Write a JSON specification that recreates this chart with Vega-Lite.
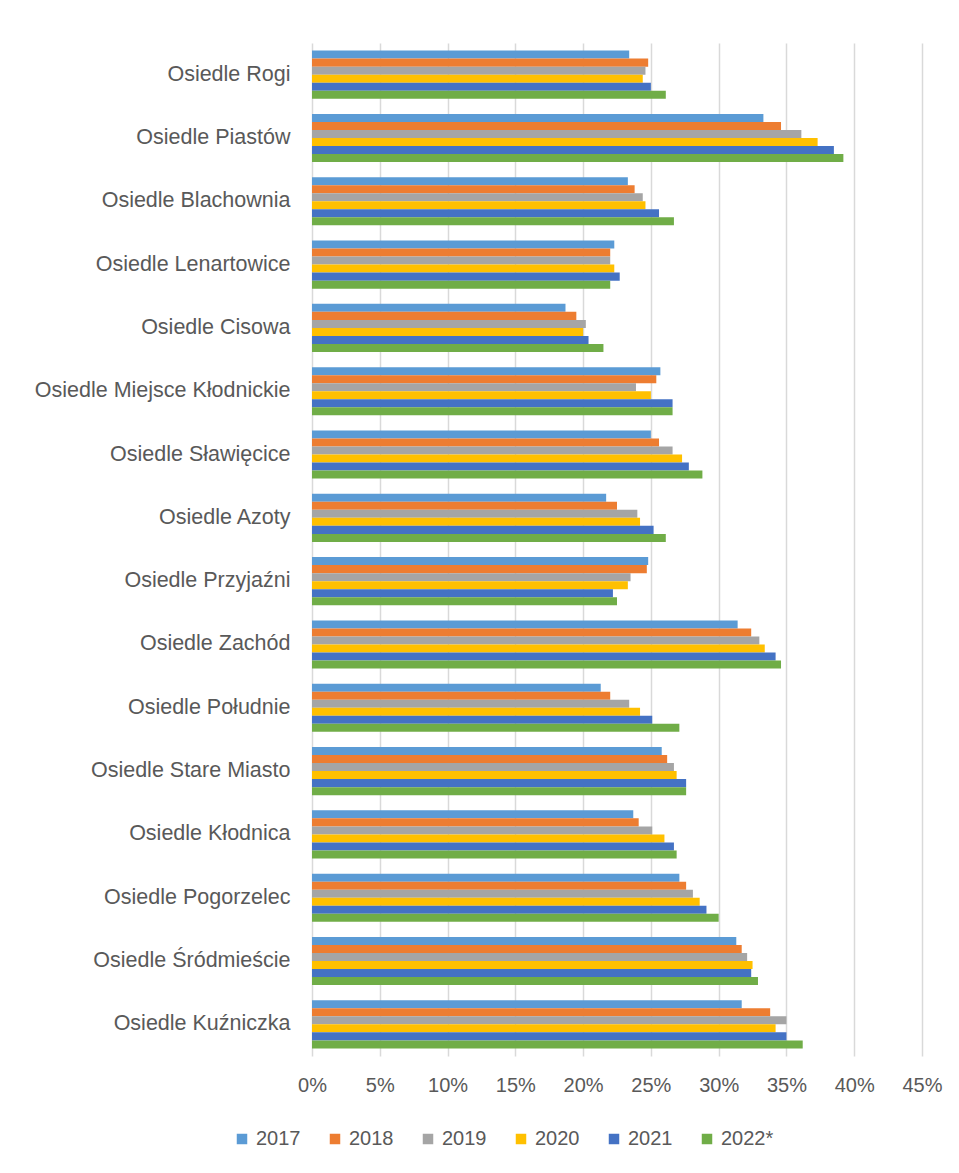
{
  "$schema": "https://vega.github.io/schema/vega-lite/v6.json",
  "width": 610,
  "height": 1013,
  "autosize": {"type": "none"},
  "padding": {"left": 312, "top": 43, "right": 37, "bottom": 117},
  "background": "white",
  "config": {
    "view": {"stroke": null},
    "font": "Liberation Sans"
  },
  "data": {
    "values": [
      {"osiedle": "Osiedle Rogi", "rok": "2017", "v": 0.234},
      {"osiedle": "Osiedle Rogi", "rok": "2018", "v": 0.248},
      {"osiedle": "Osiedle Rogi", "rok": "2019", "v": 0.246},
      {"osiedle": "Osiedle Rogi", "rok": "2020", "v": 0.244},
      {"osiedle": "Osiedle Rogi", "rok": "2021", "v": 0.250},
      {"osiedle": "Osiedle Rogi", "rok": "2022*", "v": 0.261},
      {"osiedle": "Osiedle Piastów", "rok": "2017", "v": 0.333},
      {"osiedle": "Osiedle Piastów", "rok": "2018", "v": 0.346},
      {"osiedle": "Osiedle Piastów", "rok": "2019", "v": 0.361},
      {"osiedle": "Osiedle Piastów", "rok": "2020", "v": 0.373},
      {"osiedle": "Osiedle Piastów", "rok": "2021", "v": 0.385},
      {"osiedle": "Osiedle Piastów", "rok": "2022*", "v": 0.392},
      {"osiedle": "Osiedle Blachownia", "rok": "2017", "v": 0.233},
      {"osiedle": "Osiedle Blachownia", "rok": "2018", "v": 0.238},
      {"osiedle": "Osiedle Blachownia", "rok": "2019", "v": 0.244},
      {"osiedle": "Osiedle Blachownia", "rok": "2020", "v": 0.246},
      {"osiedle": "Osiedle Blachownia", "rok": "2021", "v": 0.256},
      {"osiedle": "Osiedle Blachownia", "rok": "2022*", "v": 0.267},
      {"osiedle": "Osiedle Lenartowice", "rok": "2017", "v": 0.223},
      {"osiedle": "Osiedle Lenartowice", "rok": "2018", "v": 0.220},
      {"osiedle": "Osiedle Lenartowice", "rok": "2019", "v": 0.220},
      {"osiedle": "Osiedle Lenartowice", "rok": "2020", "v": 0.223},
      {"osiedle": "Osiedle Lenartowice", "rok": "2021", "v": 0.227},
      {"osiedle": "Osiedle Lenartowice", "rok": "2022*", "v": 0.220},
      {"osiedle": "Osiedle Cisowa", "rok": "2017", "v": 0.187},
      {"osiedle": "Osiedle Cisowa", "rok": "2018", "v": 0.195},
      {"osiedle": "Osiedle Cisowa", "rok": "2019", "v": 0.202},
      {"osiedle": "Osiedle Cisowa", "rok": "2020", "v": 0.200},
      {"osiedle": "Osiedle Cisowa", "rok": "2021", "v": 0.204},
      {"osiedle": "Osiedle Cisowa", "rok": "2022*", "v": 0.215},
      {"osiedle": "Osiedle Miejsce Kłodnickie", "rok": "2017", "v": 0.257},
      {"osiedle": "Osiedle Miejsce Kłodnickie", "rok": "2018", "v": 0.254},
      {"osiedle": "Osiedle Miejsce Kłodnickie", "rok": "2019", "v": 0.239},
      {"osiedle": "Osiedle Miejsce Kłodnickie", "rok": "2020", "v": 0.250},
      {"osiedle": "Osiedle Miejsce Kłodnickie", "rok": "2021", "v": 0.266},
      {"osiedle": "Osiedle Miejsce Kłodnickie", "rok": "2022*", "v": 0.266},
      {"osiedle": "Osiedle Sławięcice", "rok": "2017", "v": 0.250},
      {"osiedle": "Osiedle Sławięcice", "rok": "2018", "v": 0.256},
      {"osiedle": "Osiedle Sławięcice", "rok": "2019", "v": 0.266},
      {"osiedle": "Osiedle Sławięcice", "rok": "2020", "v": 0.273},
      {"osiedle": "Osiedle Sławięcice", "rok": "2021", "v": 0.278},
      {"osiedle": "Osiedle Sławięcice", "rok": "2022*", "v": 0.288},
      {"osiedle": "Osiedle Azoty", "rok": "2017", "v": 0.217},
      {"osiedle": "Osiedle Azoty", "rok": "2018", "v": 0.225},
      {"osiedle": "Osiedle Azoty", "rok": "2019", "v": 0.240},
      {"osiedle": "Osiedle Azoty", "rok": "2020", "v": 0.242},
      {"osiedle": "Osiedle Azoty", "rok": "2021", "v": 0.252},
      {"osiedle": "Osiedle Azoty", "rok": "2022*", "v": 0.261},
      {"osiedle": "Osiedle Przyjaźni", "rok": "2017", "v": 0.248},
      {"osiedle": "Osiedle Przyjaźni", "rok": "2018", "v": 0.247},
      {"osiedle": "Osiedle Przyjaźni", "rok": "2019", "v": 0.235},
      {"osiedle": "Osiedle Przyjaźni", "rok": "2020", "v": 0.233},
      {"osiedle": "Osiedle Przyjaźni", "rok": "2021", "v": 0.222},
      {"osiedle": "Osiedle Przyjaźni", "rok": "2022*", "v": 0.225},
      {"osiedle": "Osiedle Zachód", "rok": "2017", "v": 0.314},
      {"osiedle": "Osiedle Zachód", "rok": "2018", "v": 0.324},
      {"osiedle": "Osiedle Zachód", "rok": "2019", "v": 0.330},
      {"osiedle": "Osiedle Zachód", "rok": "2020", "v": 0.334},
      {"osiedle": "Osiedle Zachód", "rok": "2021", "v": 0.342},
      {"osiedle": "Osiedle Zachód", "rok": "2022*", "v": 0.346},
      {"osiedle": "Osiedle Południe", "rok": "2017", "v": 0.213},
      {"osiedle": "Osiedle Południe", "rok": "2018", "v": 0.220},
      {"osiedle": "Osiedle Południe", "rok": "2019", "v": 0.234},
      {"osiedle": "Osiedle Południe", "rok": "2020", "v": 0.242},
      {"osiedle": "Osiedle Południe", "rok": "2021", "v": 0.251},
      {"osiedle": "Osiedle Południe", "rok": "2022*", "v": 0.271},
      {"osiedle": "Osiedle Stare Miasto", "rok": "2017", "v": 0.258},
      {"osiedle": "Osiedle Stare Miasto", "rok": "2018", "v": 0.262},
      {"osiedle": "Osiedle Stare Miasto", "rok": "2019", "v": 0.267},
      {"osiedle": "Osiedle Stare Miasto", "rok": "2020", "v": 0.269},
      {"osiedle": "Osiedle Stare Miasto", "rok": "2021", "v": 0.276},
      {"osiedle": "Osiedle Stare Miasto", "rok": "2022*", "v": 0.276},
      {"osiedle": "Osiedle Kłodnica", "rok": "2017", "v": 0.237},
      {"osiedle": "Osiedle Kłodnica", "rok": "2018", "v": 0.241},
      {"osiedle": "Osiedle Kłodnica", "rok": "2019", "v": 0.251},
      {"osiedle": "Osiedle Kłodnica", "rok": "2020", "v": 0.260},
      {"osiedle": "Osiedle Kłodnica", "rok": "2021", "v": 0.267},
      {"osiedle": "Osiedle Kłodnica", "rok": "2022*", "v": 0.269},
      {"osiedle": "Osiedle Pogorzelec", "rok": "2017", "v": 0.271},
      {"osiedle": "Osiedle Pogorzelec", "rok": "2018", "v": 0.276},
      {"osiedle": "Osiedle Pogorzelec", "rok": "2019", "v": 0.281},
      {"osiedle": "Osiedle Pogorzelec", "rok": "2020", "v": 0.286},
      {"osiedle": "Osiedle Pogorzelec", "rok": "2021", "v": 0.291},
      {"osiedle": "Osiedle Pogorzelec", "rok": "2022*", "v": 0.300},
      {"osiedle": "Osiedle Śródmieście", "rok": "2017", "v": 0.313},
      {"osiedle": "Osiedle Śródmieście", "rok": "2018", "v": 0.317},
      {"osiedle": "Osiedle Śródmieście", "rok": "2019", "v": 0.321},
      {"osiedle": "Osiedle Śródmieście", "rok": "2020", "v": 0.325},
      {"osiedle": "Osiedle Śródmieście", "rok": "2021", "v": 0.324},
      {"osiedle": "Osiedle Śródmieście", "rok": "2022*", "v": 0.329},
      {"osiedle": "Osiedle Kuźniczka", "rok": "2017", "v": 0.317},
      {"osiedle": "Osiedle Kuźniczka", "rok": "2018", "v": 0.338},
      {"osiedle": "Osiedle Kuźniczka", "rok": "2019", "v": 0.350},
      {"osiedle": "Osiedle Kuźniczka", "rok": "2020", "v": 0.342},
      {"osiedle": "Osiedle Kuźniczka", "rok": "2021", "v": 0.350},
      {"osiedle": "Osiedle Kuźniczka", "rok": "2022*", "v": 0.362}
    ]
  },
  "mark": {"type": "bar"},
  "encoding": {
    "y": {
      "field": "osiedle",
      "type": "nominal",
      "sort": null,
      "scale": {"paddingInner": 0.24, "paddingOuter": 0.12},
      "axis": {
        "title": null,
        "domain": false,
        "ticks": false,
        "labelFont": "Liberation Sans",
        "labelFontSize": 21.5,
        "labelColor": "#595959",
        "labelPadding": 22,
        "labelLimit": 400
      }
    },
    "yOffset": {
      "field": "rok",
      "type": "nominal",
      "sort": ["2017", "2018", "2019", "2020", "2021", "2022*"],
      "scale": {"paddingInner": 0, "paddingOuter": 0}
    },
    "x": {
      "field": "v",
      "type": "quantitative",
      "scale": {"domain": [0, 0.45], "nice": false},
      "axis": {
        "title": null,
        "format": ".0%",
        "values": [0, 0.05, 0.1, 0.15, 0.2, 0.25, 0.3, 0.35, 0.4, 0.45],
        "domain": false,
        "ticks": false,
        "grid": true,
        "gridColor": "#d9d9d9",
        "gridWidth": 1.5,
        "labelFont": "Liberation Sans",
        "labelFontSize": 20,
        "labelColor": "#595959",
        "labelPadding": 19,
        "labelFlush": false
      }
    },
    "color": {
      "field": "rok",
      "type": "nominal",
      "sort": ["2017", "2018", "2019", "2020", "2021", "2022*"],
      "scale": {
        "domain": ["2017", "2018", "2019", "2020", "2021", "2022*"],
        "range": ["#5B9BD5", "#ED7D31", "#A5A5A5", "#FFC000", "#4472C4", "#70AD47"]
      },
      "legend": {
        "title": null,
        "orient": "none",
        "direction": "horizontal",
        "legendX": -80,
        "legendY": 1086,
        "symbolType": "square",
        "symbolSize": 110,
        "symbolStrokeWidth": 0,
        "labelFont": "Liberation Sans",
        "labelFontSize": 20,
        "labelColor": "#595959",
        "labelOffset": 4,
        "columnPadding": 24
      }
    }
  }
}
